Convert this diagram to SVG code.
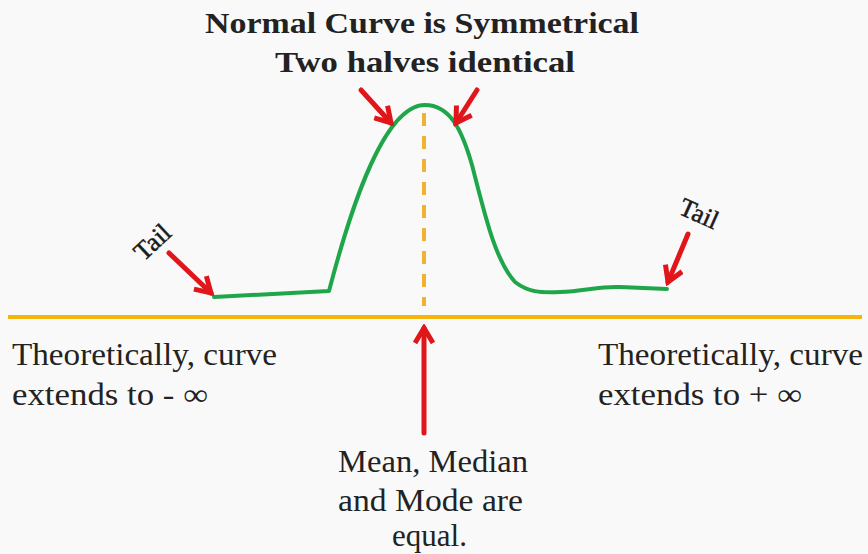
<svg xmlns="http://www.w3.org/2000/svg" width="868" height="554" viewBox="0 0 868 554">
<defs>
<style>
.t{font-family:"Liberation Serif","DejaVu Serif",serif;fill:#222;}
.b{font-weight:bold;font-size:30px;}
.n{font-size:31px;}
.tail{font-size:26px;fill:#1a1a1a;stroke:#1a1a1a;stroke-width:0.5;}
.arr{stroke:#E0161B;stroke-width:5;fill:none;stroke-linecap:round;}
</style>
<marker id="ah" viewBox="0 0 22 22" refX="18" refY="11" markerWidth="22" markerHeight="22" markerUnits="userSpaceOnUse" orient="auto">
<path d="M3,2 L18,11 L3,20" fill="none" stroke="#E0161B" stroke-width="5" stroke-linejoin="miter"/>
</marker>
</defs>
<rect width="868" height="554" fill="#F9F9F9"/>
<g id="axis">
<line x1="8" y1="317" x2="862" y2="317" stroke="#F5B50F" stroke-width="4"/>
<line x1="424" y1="113" x2="424" y2="306" stroke="#F0B230" stroke-width="4" stroke-dasharray="13 10"/>
</g>
<g id="curve">
<path d="M214,297 L329,291 C345,230 380,105 425,105 C450,105 462,130 472,165 C485,215 495,260 515,282 C528,292 540,293 560,292 C585,291 600,286 620,287 L667,289" fill="none" stroke="#1FA64A" stroke-width="4" stroke-linejoin="round" stroke-linecap="round"/>
</g>
<g id="title">
<text class="t b" x="205" y="33" textLength="434" lengthAdjust="spacingAndGlyphs">Normal Curve is Symmetrical</text>
<text class="t b" x="275" y="72" textLength="300" lengthAdjust="spacingAndGlyphs">Two halves identical</text>
</g>
<g id="tail-left">
<text class="t tail" transform="translate(154,244) rotate(-43)" text-anchor="middle" dominant-baseline="middle">Tail</text>
</g>
<g id="tail-right">
<text class="t tail" transform="translate(698,216) rotate(24)" text-anchor="middle" dominant-baseline="middle">Tail</text>
</g>
<g id="left-label">
<text class="t n" x="12" y="365" textLength="265" lengthAdjust="spacingAndGlyphs">Theoretically, curve</text>
<text class="t n" x="12" y="405" textLength="196" lengthAdjust="spacingAndGlyphs">extends to - ∞</text>
</g>
<g id="right-label">
<text class="t n" x="598" y="365" textLength="265" lengthAdjust="spacingAndGlyphs">Theoretically, curve</text>
<text class="t n" x="598" y="405" textLength="204" lengthAdjust="spacingAndGlyphs">extends to + ∞</text>
</g>
<g id="center-label">
<text class="t n" x="338" y="472" textLength="190" lengthAdjust="spacingAndGlyphs">Mean, Median</text>
<text class="t n" x="338" y="511" textLength="185" lengthAdjust="spacingAndGlyphs">and Mode are</text>
<text class="t n" x="392" y="546" textLength="75" lengthAdjust="spacingAndGlyphs">equal.</text>
</g>
<g id="connectors">
<line class="arr" x1="361" y1="90" x2="391" y2="123" marker-end="url(#ah)"/>
<line class="arr" x1="477" y1="90" x2="456" y2="123" marker-end="url(#ah)"/>
<line class="arr" x1="169" y1="253" x2="211" y2="293" marker-end="url(#ah)"/>
<line class="arr" x1="688" y1="234" x2="668" y2="282" marker-end="url(#ah)"/>
<line class="arr" x1="424" y1="433" x2="424" y2="328" marker-end="url(#ah)"/>
</g>
</svg>
